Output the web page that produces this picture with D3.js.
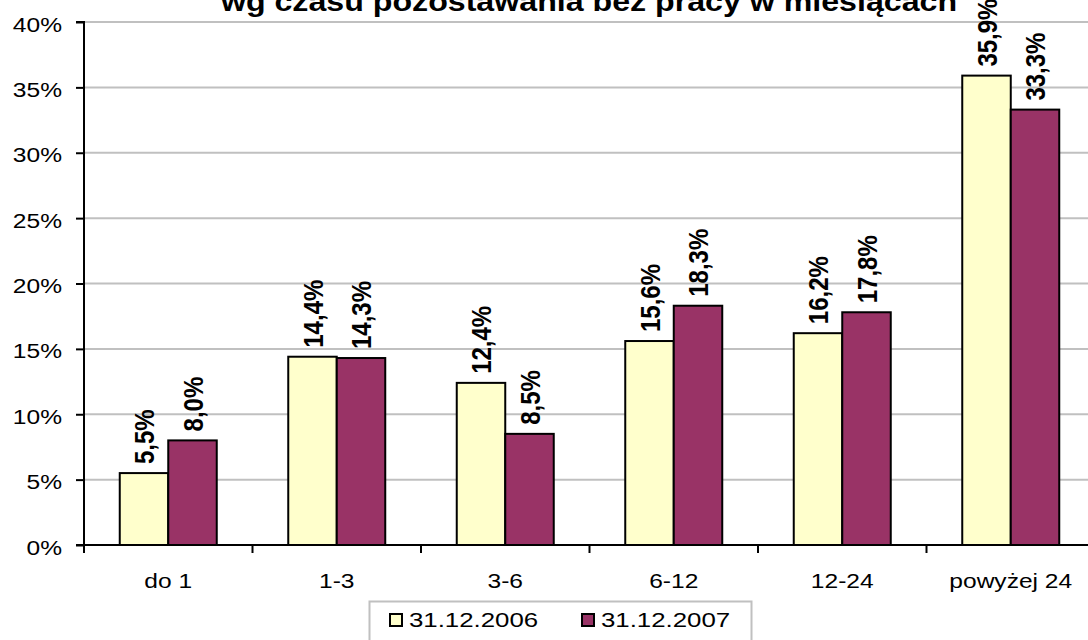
<!DOCTYPE html>
<html><head><meta charset="utf-8">
<script src="https://cdn.jsdelivr.net/npm/d3@7"></script>
<style>body{margin:0;background:#fff}svg{display:block}</style>
</head><body>
<script>
const title = "wg czasu pozostawania bez pracy w miesiącach";
const categories = ["do 1","1-3","3-6","6-12","12-24","powyżej 24"];
const seriesNames = ["31.12.2006","31.12.2007"];
const values2006 = [5.5,14.4,12.4,15.6,16.2,35.9];
const values2007 = [8.0,14.3,8.5,18.3,17.8,33.3];
const yTicks = [0,5,10,15,20,25,30,35,40];
const colors = ["#FFFFCC","#993366"];

(function(){
const W=1088,H=640, SX=1.17;
const svg=d3.select("body").append("svg").attr("width",W).attr("height",H);
const font="'Liberation Sans', Arial, sans-serif";
const pLeft=84,pRight=1095,pTop=22,pBottom=545;
const x=d3.scaleBand().domain(categories).range([pLeft,pRight]).paddingInner(0).paddingOuter(0);
const y=d3.scaleLinear().domain([0,40]).range([pBottom,pTop]);
const groupW = 97;
const xs=d3.scaleBand().domain(seriesNames).range([0,groupW]);

// gridlines
svg.append("g").selectAll("line").data(yTicks.filter(d=>d>0)).join("line")
  .attr("x1",pLeft).attr("x2",pRight).attr("y1",d=>y(d)).attr("y2",d=>y(d))
  .attr("stroke","#c0c0c0").attr("stroke-width",2);

// bars
const series=[values2006,values2007];
const g=svg.append("g");
categories.forEach((c,i)=>{
  series.forEach((vals,s)=>{
    const bx=x(c)+(x.bandwidth()-groupW)/2+xs(seriesNames[s]);
    g.append("rect").attr("x",bx).attr("y",y(vals[i])).attr("width",xs.bandwidth())
      .attr("height",y(0)-y(vals[i])).attr("fill",colors[s]).attr("stroke","#000").attr("stroke-width",2);
    const lx=bx+xs.bandwidth()/2+10, ly=y(vals[i])-9;
    g.append("text").attr("transform",`translate(${lx},${ly}) rotate(-90) scale(1,${SX})`)
      .attr("font-family",font).attr("font-weight","bold").attr("font-size",24)
      .attr("text-anchor","start").text(vals[i].toFixed(1).replace(".",",")+"%");
  });
});

// y axis
const ya=svg.append("g").attr("transform",`translate(${pLeft},0)`)
  .call(d3.axisLeft(y).tickValues(yTicks).tickFormat(d=>d+"%").tickSize(8).tickPadding(14));
ya.select(".domain").attr("stroke","#000").attr("stroke-width",2).attr("d",`M-8,${pTop}H0V${pBottom}H-8`);
ya.selectAll(".tick line").attr("stroke","#000").attr("stroke-width",2);
ya.selectAll(".tick text").attr("font-family",font).attr("font-size",21).attr("fill","#000")
  .attr("x",0).attr("dy",null).attr("y",9)
  .attr("transform",`translate(-22,0) scale(${SX},1)`);

// x axis
const xa=svg.append("g").attr("transform",`translate(0,${pBottom})`)
  .call(d3.axisBottom(x).tickSize(0).tickPadding(22));
xa.select(".domain").attr("stroke","#000").attr("stroke-width",2).attr("d",`M${pLeft},0H${pRight}`);
xa.selectAll(".tick text").attr("font-family",font).attr("font-size",21).attr("fill","#000")
  .attr("y",0).attr("dy",null).attr("transform",`translate(0,43) scale(${SX},1)`);
const bounds=categories.map(c=>x(c)).concat([pRight]);
svg.append("g").selectAll("line").data(bounds).join("line")
  .attr("x1",d=>d).attr("x2",d=>d).attr("y1",pBottom).attr("y2",pBottom+8)
  .attr("stroke","#000").attr("stroke-width",2);

// title
svg.append("text").attr("transform",`translate(589,11) scale(${SX},1)`).attr("text-anchor","middle")
  .attr("font-family",font).attr("font-weight","bold").attr("font-size",27.5).text(title);

// legend
const lg=svg.append("g");
lg.append("rect").attr("x",369.5).attr("y",601.5).attr("width",382).attr("height",50)
  .attr("fill","#fff").attr("stroke","#c0c0c0").attr("stroke-width",2);
const legX=[389,581];
seriesNames.forEach((n,s)=>{
  lg.append("rect").attr("x",legX[s]+1).attr("y",614).attr("width",12).attr("height",12)
    .attr("fill",colors[s]).attr("stroke","#000").attr("stroke-width",2);
  lg.append("text").attr("transform",`translate(${legX[s]+20},627) scale(1.23,1)`)
    .attr("font-family",font).attr("font-size",21).text(n);
});
})();
</script>
</body></html>
